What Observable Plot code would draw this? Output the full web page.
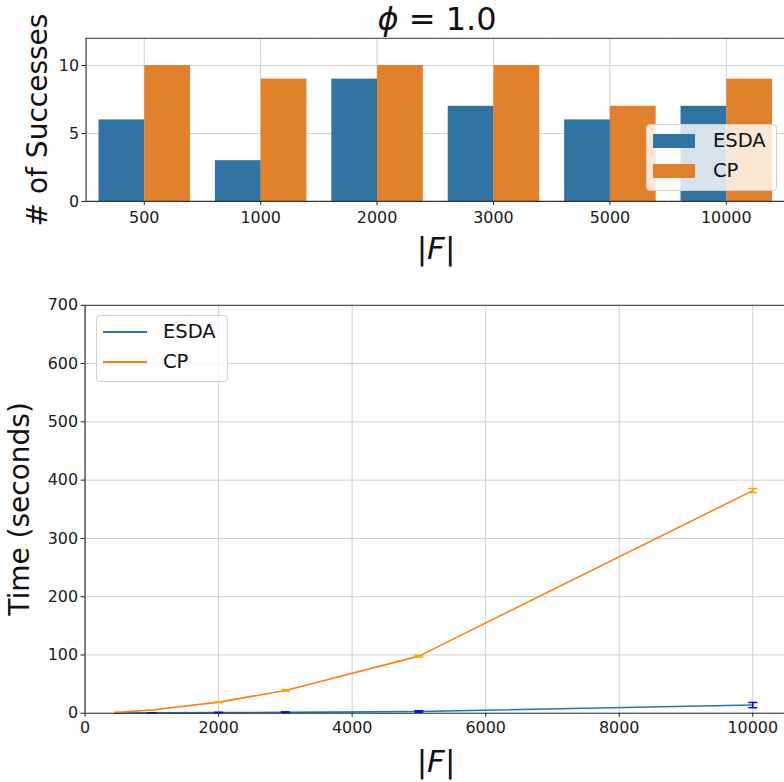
<!DOCTYPE html>
<html>
<head>
<meta charset="utf-8">
<script src="https://cdn.jsdelivr.net/npm/d3@7"></script>
<script src="https://cdn.jsdelivr.net/npm/@observablehq/plot@0.6"></script>
<style>
  html, body { margin: 0; padding: 0; background: #fff; }
  #wrap { position: relative; width: 784px; height: 782px; overflow: hidden; font-family: "DejaVu Sans", sans-serif; }
  #topPanel, #bottomPanel { position: absolute; left: 0; }
  #topPanel { top: 0; }
  #bottomPanel { top: 270px; }
  #topPanel svg, #bottomPanel svg { display: block; }
  #labels { position: absolute; left: 0; top: 0; pointer-events: none; }
  .legend { position: absolute; background: rgba(255,255,255,0.8); border: 1px solid #d0d0d0; border-radius: 4px; box-sizing: border-box; font-size: 19.5px; color: #111; }
  .item { position: absolute; left: 0; height: 30px; width: 100%; }
  .sw { position: absolute; }
  .lab { position: absolute; line-height: 1; }
</style>
</head>
<body>
<div id="wrap">
  <div id="topPanel"></div>
  <div id="bottomPanel"></div>
  <svg id="labels" width="784" height="782" font-family="DejaVu Sans" fill="#111">
    <text x="437" y="30" text-anchor="middle" font-size="32"><tspan font-style="italic">ϕ</tspan> = 1.0</text>
    <text transform="translate(47,120) rotate(-90)" text-anchor="middle" font-size="28"># of Successes</text>
    <text x="436" y="259" text-anchor="middle" font-size="31">|<tspan font-style="italic">F</tspan>|</text>
    <text transform="translate(29,509) rotate(-90)" text-anchor="middle" font-size="28">Time (seconds)</text>
    <text x="436" y="772" text-anchor="middle" font-size="31">|<tspan font-style="italic">F</tspan>|</text>
  </svg>
  <div class="legend" id="leg1" style="left:646px; top:124px; width:131px; height:67px;"></div>
  <div class="legend" id="leg2" style="left:96px; top:315px; width:132px; height:67px;"></div>
</div>
<script>
// ---- data ----
const categories = ["500", "1000", "2000", "3000", "5000", "10000"];
const methods = ["ESDA", "CP"];
const esdaSuccesses = [6, 3, 9, 7, 6, 7];
const cpSuccesses = [10, 9, 10, 10, 7, 9];

const fValues = [500, 1000, 2000, 3000, 5000, 10000];
const esdaTime = [0.3, 0.6, 1.0, 1.5, 3.0, 14];
const esdaErr = [0.1, 0.2, 0.6, 0.7, 1.2, 4.5];
const cpTime = [1.5, 5.5, 19, 39, 98, 382];
const cpErr = [0.2, 0.4, 0.8, 1.2, 1.5, 3.5];

const successTicks = [0, 5, 10];
const timeTicksX = [0, 2000, 4000, 6000, 8000, 10000];
const timeTicksY = [0, 100, 200, 300, 400, 500, 600, 700];

// ---- styles ----
const barColors = ["#3274a1", "#e1812c"];
const lineColors = ["#1f77b4", "#ff7f0e"];
const errColors = ["#0000ff", "#ffa500"];
const gridColor = "#d0d0d0";
const spine = "#333";

const barData = categories.flatMap((c, i) => [
  {F: c, method: "ESDA", n: esdaSuccesses[i]},
  {F: c, method: "CP", n: cpSuccesses[i]}
]);

const topChart = Plot.plot({
  width: 788, height: 270,
  marginLeft: 85, marginRight: 0, marginTop: 38, marginBottom: 68,
  style: {fontFamily: "DejaVu Sans", fontSize: "16px", color: "#1a1a1a", background: "transparent", overflow: "visible"},
  fx: {domain: categories, padding: 0, label: null},
  x: {domain: methods, paddingInner: 0, paddingOuter: 0.25, axis: null},
  y: {domain: [0, 12], label: null},
  color: {domain: methods, range: barColors},
  marks: [
    Plot.gridY(successTicks, {stroke: gridColor, strokeOpacity: 1}),
    Plot.gridFx({stroke: gridColor, strokeOpacity: 1}),
    Plot.barY(barData, {fx: "F", x: "method", y: "n", fill: "method"}),
    Plot.axisY(successTicks, {tickSize: 4, tickPadding: 3, label: null, fontSize: 16}),
    Plot.axisFx({anchor: "bottom", tickSize: 4, tickPadding: 6, label: null, fontSize: 16}),
    Plot.ruleY([0], {stroke: spine, strokeWidth: 1.2}),
    Plot.ruleY([12], {stroke: spine, strokeWidth: 1}),
    Plot.frame({anchor: "left", facetAnchor: "left", stroke: spine, strokeWidth: 1.2})
  ]
});
document.getElementById("topPanel").appendChild(topChart);

const timeData = [
  ...fValues.map((f, i) => ({F: f, method: "ESDA", t: esdaTime[i], e: esdaErr[i]})),
  ...fValues.map((f, i) => ({F: f, method: "CP", t: cpTime[i], e: cpErr[i]}))
];
const errColor = d => errColors[methods.indexOf(d.method)];
const capSymbol = {draw(ctx, size) { const r = 4.5; ctx.moveTo(-r, 0); ctx.lineTo(r, 0); }};

const bottomChart = Plot.plot({
  width: 788, height: 512,
  marginLeft: 85, marginRight: 0, marginTop: 35, marginBottom: 67,
  style: {fontFamily: "DejaVu Sans", fontSize: "16px", color: "#1a1a1a", background: "transparent", overflow: "visible"},
  x: {domain: [0, 10475], label: null},
  y: {domain: [0, 700], label: null},
  color: {domain: methods, range: lineColors},
  marks: [
    Plot.gridX(timeTicksX, {stroke: gridColor, strokeOpacity: 1}),
    Plot.gridY(timeTicksY, {stroke: gridColor, strokeOpacity: 1}),
    Plot.line(timeData, {x: "F", y: "t", z: "method", stroke: "method", strokeWidth: 1.6}),
    Plot.ruleX(timeData, {x: "F", y1: d => d.t - d.e, y2: d => d.t + d.e, stroke: errColor, strokeWidth: 1.5}),
    Plot.dot(timeData, {x: "F", y: d => d.t - d.e, symbol: capSymbol, stroke: errColor, strokeWidth: 1.5, r: 4}),
    Plot.dot(timeData, {x: "F", y: d => d.t + d.e, symbol: capSymbol, stroke: errColor, strokeWidth: 1.5, r: 4}),
    Plot.axisX(timeTicksX, {tickSize: 4, tickPadding: 5, label: null, fontSize: 16, tickFormat: d => String(d)}),
    Plot.axisY(timeTicksY, {tickSize: 4, tickPadding: 3, label: null, fontSize: 16, tickFormat: d => String(d)}),
    Plot.ruleY([0], {stroke: spine, strokeWidth: 1.2}),
    Plot.ruleY([700], {stroke: spine, strokeWidth: 1}),
    Plot.ruleX([0], {stroke: spine, strokeWidth: 1.2})
  ]
});
document.getElementById("bottomPanel").appendChild(bottomChart);

// ---- legends ----
function addLegend(id, kind, colors) {
  const el = document.getElementById(id);
  methods.forEach((m, i) => {
    const item = document.createElement("div");
    item.className = "item";
    item.style.top = (i === 0 ? 2 : 32) + "px";
    const sw = document.createElement("div");
    sw.className = "sw";
    if (kind === "bar") {
      Object.assign(sw.style, {left: "6px", top: "7px", width: "42px", height: "14px", background: colors[i]});
    } else {
      Object.assign(sw.style, {left: "6px", top: "13px", width: "44px", height: "0", borderTop: "2px solid " + colors[i]});
    }
    const lab = document.createElement("div");
    lab.className = "lab";
    lab.textContent = m;
    Object.assign(lab.style, {left: "66px", top: "4px"});
    item.appendChild(sw);
    item.appendChild(lab);
    el.appendChild(item);
  });
}
addLegend("leg1", "bar", barColors);
addLegend("leg2", "line", lineColors);
</script>
</body>
</html>
